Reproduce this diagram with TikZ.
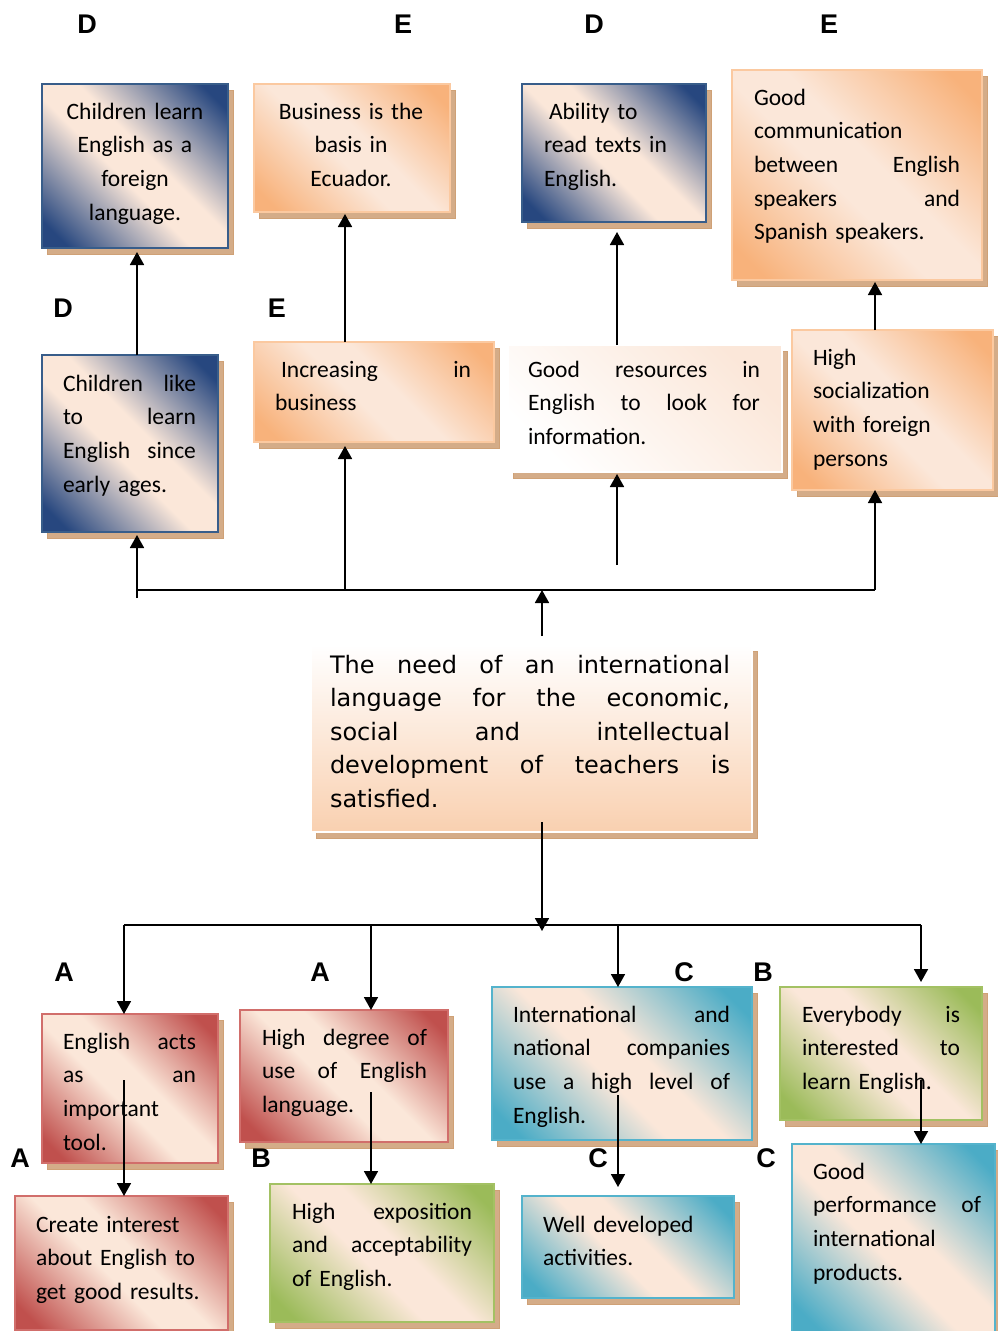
\documentclass[tikz,border=0pt]{standalone}
\usepackage{fontspec}
\setmainfont{Carlito}
\newfontfamily\verd{DejaVu Sans}
\newfontfamily\labf{Liberation Sans}
\usetikzlibrary{arrows.meta,shadows}
\definecolor{peach}{HTML}{FBE7D9}
\definecolor{navyc}{HTML}{27477F}
\definecolor{redc}{HTML}{C0504D}
\definecolor{tealc}{HTML}{4BACC6}
\definecolor{greenc}{HTML}{9BBB59}
\definecolor{orangec}{HTML}{F8B27B}
\definecolor{shadowc}{HTML}{D4AC88}
\pgfdeclareverticalshading{navysh}{100bp}{color(0bp)=(navyc); color(20bp)=(navyc); color(45bp)=(peach); color(55bp)=(peach); color(80bp)=(navyc); color(100bp)=(navyc)}
\pgfdeclareverticalshading{redsh}{100bp}{color(0bp)=(redc); color(20bp)=(redc); color(45bp)=(peach); color(55bp)=(peach); color(80bp)=(redc); color(100bp)=(redc)}
\pgfdeclareverticalshading{tealsh}{100bp}{color(0bp)=(tealc); color(20bp)=(tealc); color(45bp)=(peach); color(55bp)=(peach); color(80bp)=(tealc); color(100bp)=(tealc)}
\pgfdeclareverticalshading{greensh}{100bp}{color(0bp)=(greenc); color(20bp)=(greenc); color(45bp)=(peach); color(55bp)=(peach); color(80bp)=(greenc); color(100bp)=(greenc)}
\pgfdeclareverticalshading{orangesh}{100bp}{color(0bp)=(orangec); color(20bp)=(orangec); color(45bp)=(peach); color(55bp)=(peach); color(80bp)=(orangec); color(100bp)=(orangec)}
\newcommand\J[1]{\leavevmode\hbox to\hsize{#1}}
\newcommand\st{\rule{0pt}{20pt}}
\newcommand\mkbox[6]{\node[#1, minimum width={#4-#2}, minimum height={#5-#3}] (#6) at ({(#2+#4)/2},{(#3+#5)/2}) {};}
\definecolor{navyb}{HTML}{385D8A}
\definecolor{redb}{HTML}{D16E6B}
\definecolor{tealb}{HTML}{54B3CC}
\definecolor{greenb}{HTML}{A3C163}
\definecolor{orangeb}{HTML}{FBC9A0}
\tikzset{
  boxbase/.style={rectangle, inner sep=0pt, outer sep=0pt, line width=2.5pt,
    drop shadow={shadow xshift=5pt, shadow yshift=-6pt, fill=shadowc, draw=shadowc!75!brown, line width=0.6pt, opacity=1}},
  navybox/.style={boxbase, shade, shading=navysh, shading angle=-45, draw=navyb},
  redbox/.style={boxbase, shade, shading=redsh, shading angle=-45, draw=redb},
  tealbox/.style={boxbase, shade, shading=tealsh, shading angle=-45, draw=tealb},
  greenbox/.style={boxbase, shade, shading=greensh, shading angle=-45, draw=greenb},
  orangebox/.style={boxbase, shade, shading=orangesh, shading angle=-45, draw=orangeb},
  txt/.style={anchor=north west, inner sep=0pt, outer sep=0pt, align=left, font=\fontsize{23.5}{33.7}\selectfont},
  ctxt/.style={anchor=north, inner sep=0pt, outer sep=0pt, align=center, font=\fontsize{23.5}{33.7}\selectfont},
  lab/.style={inner sep=0pt, font=\labf\bfseries\fontsize{27}{30}\selectfont},
  ln/.style={line width=1.8pt},
  arr/.style={line width=1.8pt, -{Triangle[length=13pt,width=14pt]}},
}
\begin{document}
\begin{tikzpicture}[x=1pt,y=-1pt]
\useasboundingbox[fill=white] (0,0) rectangle (997,1331);
% boxes
\mkbox{navybox}{42}{84}{228}{248}{b1}
\mkbox{orangebox}{254}{84}{450}{212}{b2}
\mkbox{navybox}{522}{84}{706}{222}{b3}
\mkbox{orangebox}{732}{70}{982}{280}{b4}
\mkbox{navybox}{42}{355}{218}{532}{b5}
\mkbox{orangebox}{254}{342}{494}{442}{b6}
\mkbox{boxbase, shade, top color=peach, bottom color=white, shading angle=-45, draw=white}{508}{345}{782}{472}{b7}
\mkbox{orangebox}{792}{330}{993}{490}{b8}
\mkbox{boxbase, shade, top color=white, bottom color={rgb,255:red,249;green,208;blue,176}, draw=white, line width=2pt}{311}{645}{752}{832}{b9}
\mkbox{redbox}{42}{1014}{218}{1163}{b10}
\mkbox{redbox}{240}{1010}{448}{1142}{b11}
\mkbox{tealbox}{492}{987}{752}{1140}{b12}
\mkbox{greenbox}{780}{987}{982}{1120}{b13}
\mkbox{redbox}{15}{1196}{228}{1330}{b14}
\mkbox{greenbox}{270}{1184}{494}{1322}{b15}
\mkbox{tealbox}{522}{1196}{734}{1298}{b16}
\mkbox{tealbox}{792}{1144}{995}{1333}{b17}
% texts
\node[ctxt, text width=180pt] (t1) at (135,99) {\st Children learn\\English as a\\foreign\\language.};
\node[ctxt, text width=190pt] (t2) at (351,99) {\st Business is the\\basis in\\Ecuador.};
\node[txt, text width=160pt] (t3) at (544,99) {\st\hspace*{5pt}Ability to\\read texts in\\English.};
\node[txt, text width=206pt] (t4) at (754,85) {\st Good\\communication\\\J{between\hfill English}\\\J{speakers\hfill and}\\Spanish speakers.};
\node[txt, text width=133pt] (t5) at (63,371) {\st\J{Children\hfill like}\\\J{to\hfill learn}\\\J{English\hfill since}\\early ages.};
\node[txt, text width=196pt] (t6) at (275,357) {\st\J{\hspace*{6pt}Increasing\hfill in}\\business};
\node[txt, text width=232pt] (t7) at (528,357) {\st\J{Good\hfill resources\hfill in}\\\J{English\hfill to\hfill look\hfill for}\\information.};
\node[txt, text width=170pt] (t8) at (813,345) {\st High\\socialization\\with foreign\\persons};
\node[txt, text width=400pt, font=\verd\fontsize{24}{33.6}\selectfont] (t9) at (330,653) {\st\J{The\hfill need\hfill of\hfill an\hfill international}\\\J{language\hfill for\hfill the\hfill economic,}\\\J{social\hfill and\hfill intellectual}\\\J{development\hfill of\hfill teachers\hfill is}\\satisfied.};
\node[txt, text width=133pt] (t10) at (63,1029) {\st\J{English\hfill acts}\\\J{as\hfill an}\\important\\tool.};
\node[txt, text width=165pt] (t11) at (262,1025) {\st\J{High\hfill degree\hfill of}\\\J{use\hfill of\hfill English}\\language.};
\node[txt, text width=217pt] (t12) at (513,1002) {\st\J{International\hfill and}\\\J{national\hfill companies}\\\J{use\hfill a\hfill high\hfill level\hfill of}\\English.};
\node[txt, text width=158pt] (t13) at (802,1002) {\st\J{Everybody\hfill is}\\\J{interested\hfill to}\\learn English.};
\node[txt, text width=180pt] (t14) at (36,1212) {\st Create interest\\about English to\\get good results.};
\node[txt, text width=180pt] (t15) at (292,1199) {\st\J{High\hfill exposition}\\\J{and\hfill acceptability}\\of English.};
\node[txt, text width=180pt] (t16) at (543,1212) {\st Well developed\\activities.};
\node[txt, text width=168pt] (t17) at (813,1159) {\st Good\\\J{performance\hfill of}\\international\\products.};
% labels
\node[lab] (l1) at (87,24) {D};
\node[lab] (l2) at (403,24) {E};
\node[lab] (l3) at (594,24) {D};
\node[lab] (l4) at (829,24) {E};
\node[lab] (l5) at (63,308) {D};
\node[lab] (l6) at (277,308) {E};
\node[lab] (l7) at (64,972) {A};
\node[lab] (l8) at (320,972) {A};
\node[lab] (l9) at (684,972) {C};
\node[lab] (l10) at (763,972) {B};
\node[lab] (l11) at (20,1158) {A};
\node[lab] (l12) at (261,1158) {B};
\node[lab] (l13) at (598,1158) {C};
\node[lab] (l14) at (766,1158) {C};
% coordinates
\coordinate (c0) at (542,636);
\coordinate (hub1) at (542,590);
\coordinate (hL) at (137,590);
\coordinate (hR) at (875,590);
\coordinate (L1) at (137,598);
\coordinate (m2) at (345,590);
\coordinate (m3) at (617,565);
\coordinate (d0) at (542,822);
\coordinate (hub2) at (542,931);
\coordinate (hL2) at (124,925);
\coordinate (hR2) at (921,925);
\coordinate (n2) at (371,925);
\coordinate (n3) at (618,925);
\coordinate (i10) at (124,1080);
\coordinate (i11) at (371,1092);
\coordinate (i12) at (618,1095);
\coordinate (i13) at (921,1080);
% top connectors
\draw[arr] (c0) -- (hub1);
\draw[ln] (hL) -- (hR);
\draw[arr, shorten >=3pt] (L1) -- (b5.south -| L1);
\draw[arr, shorten >=4pt] (m2) -- (b6.south -| m2);
\draw[arr, shorten >=2pt] (m3) -- (b7.south -| m3);
\draw[arr] (hR) -- (b8.south -| hR);
\draw[arr, shorten >=4pt] (b5.north -| L1) -- (b1.south -| L1);
\draw[arr, shorten >=2pt] (b6.north -| m2) -- (b2.south -| m2);
\draw[arr, shorten >=10pt] (b7.north -| m3) -- (b3.south -| m3);
\draw[arr, shorten >=2pt] (b8.north -| hR) -- (b4.south -| hR);
% bottom connectors
\draw[arr] (d0) -- (hub2);
\draw[ln] (hL2) -- (hR2);
\draw[arr] (hL2) -- (b10.north -| hL2);
\draw[arr] (n2) -- (b11.north -| n2);
\draw[arr] (n3) -- (b12.north -| n3);
\draw[arr, shorten >=5pt] (hR2) -- (b13.north -| hR2);
\draw[arr] (i10) -- (b14.north -| i10);
\draw[arr] (i11) -- (b15.north -| i11);
\draw[arr, shorten >=9pt] (i12) -- (b16.north -| i12);
\draw[arr] (i13) -- (b17.north -| i13);
\end{tikzpicture}
\end{document}
